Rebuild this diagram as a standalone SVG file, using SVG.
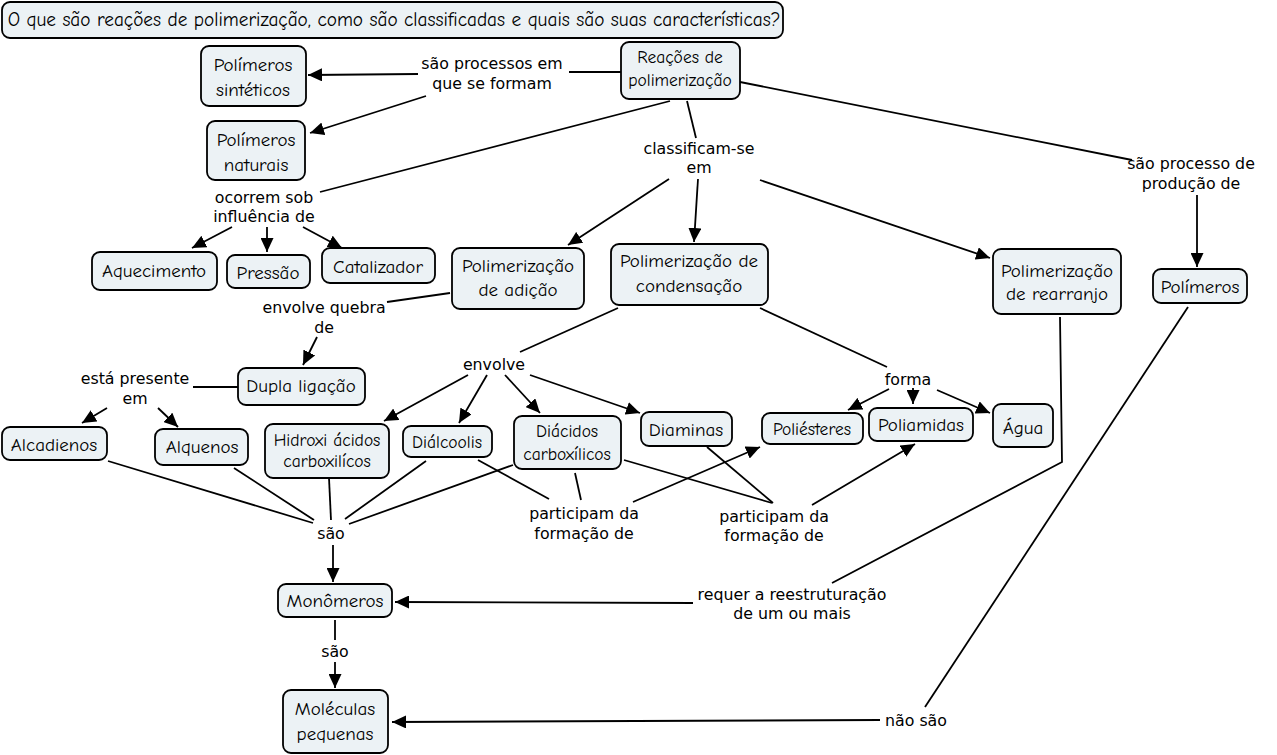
<svg xmlns="http://www.w3.org/2000/svg" width="1277" height="755" viewBox="0 0 1277 755">
<style>
.n rect{fill:#ecf2f5;stroke:#000;stroke-width:1.8}
.n text{font-family:"Comic Sans MS","Comic Neue","Noto Sans",sans-serif;font-size:19px;fill:#000;text-anchor:middle}
.n text.s{font-size:17.5px}
.l{font-family:"DejaVu Sans","Verdana",sans-serif;font-size:15.8px;fill:#000;text-anchor:middle}
#conn line,#conn polyline{stroke:#000;stroke-width:1.8;fill:none}
#conn .a{marker-end:url(#ah)}
</style>
<defs>
<marker id="ah" markerUnits="userSpaceOnUse" markerWidth="15" markerHeight="13" refX="14" refY="6.5" orient="auto" viewBox="0 0 15 13">
<path d="M0,0 L14,6.5 L0,13 Z" fill="#000"/>
</marker>
</defs>
<rect width="1277" height="755" fill="#fff"/>
<g id="conn">
<line x1="621" y1="72" x2="569" y2="72"/>
<line class="a" x1="418" y1="74" x2="308" y2="75"/>
<line class="a" x1="426" y1="96" x2="310" y2="133"/>
<line x1="670" y1="101" x2="320" y2="192"/>
<line class="a" x1="232" y1="227" x2="192" y2="248"/>
<line class="a" x1="267" y1="227" x2="267" y2="252"/>
<line class="a" x1="303" y1="227" x2="342" y2="248"/>
<line x1="687" y1="101" x2="696" y2="138"/>
<line class="a" x1="669" y1="179" x2="568" y2="245"/>
<line class="a" x1="698" y1="179" x2="694" y2="242"/>
<line class="a" x1="760" y1="180" x2="990" y2="258"/>
<line x1="740" y1="82" x2="1132" y2="160"/>
<line class="a" x1="1197" y1="195" x2="1197" y2="267"/>
<line x1="1188" y1="307" x2="925" y2="707"/>
<line class="a" x1="880" y1="720" x2="392" y2="722"/>
<polyline points="1060,317 1062,462 832,583"/>
<line class="a" x1="693" y1="603" x2="395" y2="602"/>
<line x1="335" y1="620" x2="335" y2="640"/>
<line class="a" x1="335" y1="662" x2="335" y2="688"/>
<line class="a" x1="333" y1="545" x2="333" y2="582"/>
<line x1="108" y1="461" x2="313" y2="523"/>
<line x1="234" y1="468" x2="314" y2="520"/>
<line x1="329" y1="478" x2="331" y2="520"/>
<line x1="426" y1="461" x2="345" y2="519"/>
<line x1="513" y1="465" x2="349" y2="524"/>
<line x1="450" y1="293" x2="387" y2="302"/>
<line class="a" x1="317" y1="337" x2="303" y2="365"/>
<line x1="238" y1="387" x2="193" y2="387"/>
<line class="a" x1="107" y1="408" x2="82" y2="423"/>
<line class="a" x1="158" y1="408" x2="178" y2="427"/>
<line x1="618" y1="308" x2="520" y2="352"/>
<line class="a" x1="468" y1="375" x2="384" y2="421"/>
<line class="a" x1="487" y1="375" x2="459" y2="423"/>
<line class="a" x1="505" y1="375" x2="540" y2="413"/>
<line class="a" x1="530" y1="375" x2="640" y2="413"/>
<line x1="760" y1="308" x2="887" y2="367"/>
<line class="a" x1="889" y1="389" x2="848" y2="410"/>
<line class="a" x1="913" y1="388" x2="913" y2="404"/>
<line class="a" x1="937" y1="390" x2="990" y2="413"/>
<line x1="478" y1="460" x2="549" y2="499"/>
<line x1="575" y1="473" x2="581" y2="500"/>
<line class="a" x1="633" y1="502" x2="760" y2="447"/>
<line x1="624" y1="460" x2="772" y2="503"/>
<line x1="707" y1="447" x2="773" y2="503"/>
<line class="a" x1="812" y1="505" x2="915" y2="444"/>
</g>
<g id="labels">
<text class="l" x="492" y="69">são processos em</text>
<text class="l" x="492" y="89">que se formam</text>
<text class="l" x="264" y="203">ocorrem sob</text>
<text class="l" x="264" y="222">influência de</text>
<text class="l" x="699" y="154">classificam-se</text>
<text class="l" x="699" y="173">em</text>
<text class="l" x="1191" y="169">são processo de</text>
<text class="l" x="1191" y="189">produção de</text>
<text class="l" x="324" y="313">envolve quebra</text>
<text class="l" x="324" y="333">de</text>
<text class="l" x="135" y="384">está presente</text>
<text class="l" x="135" y="404">em</text>
<text class="l" x="494" y="370">envolve</text>
<text class="l" x="908" y="385">forma</text>
<text class="l" x="584" y="519">participam da</text>
<text class="l" x="584" y="539">formação de</text>
<text class="l" x="774" y="522">participam da</text>
<text class="l" x="774" y="541">formação de</text>
<text class="l" x="331" y="539">são</text>
<text class="l" x="335" y="657">são</text>
<text class="l" x="792" y="600">requer a reestruturação</text>
<text class="l" x="792" y="619">de um ou mais</text>
<text class="l" x="916" y="726">não são</text>
</g>
<g id="title" class="n"><rect x="2" y="2" width="781" height="36" rx="8"/><text x="394" y="26" style="font-size:19.3px">O que são reações de polimerização, como são classificadas e quais são suas características?</text></g>
<g id="reacoes" class="n"><rect x="621" y="42" width="119" height="57" rx="8"/><text class="s" x="680" y="63">Reações de</text><text class="s" x="680" y="86">polimerização</text></g>
<g id="sinteticos" class="n"><rect x="201" y="46" width="105" height="60" rx="8"/><text x="253" y="71">Polímeros</text><text x="253" y="96">sintéticos</text></g>
<g id="naturais" class="n"><rect x="207" y="121" width="98" height="59" rx="8"/><text x="256" y="146">Polímeros</text><text x="256" y="171">naturais</text></g>
<g id="aquecimento" class="n"><rect x="92" y="252" width="125" height="38" rx="8"/><text x="154" y="277">Aquecimento</text></g>
<g id="pressao" class="n"><rect x="227" y="255" width="83" height="33" rx="8"/><text x="268" y="279">Pressão</text></g>
<g id="catalizador" class="n"><rect x="322" y="248" width="113" height="35" rx="8"/><text x="378" y="273">Catalizador</text></g>
<g id="adicao" class="n"><rect x="452" y="248" width="132" height="61" rx="8"/><text x="518" y="272">Polimerização</text><text x="518" y="296">de adição</text></g>
<g id="condensacao" class="n"><rect x="611" y="244" width="157" height="61" rx="8"/><text x="689" y="267">Polimerização de</text><text x="689" y="292">condensação</text></g>
<g id="rearranjo" class="n"><rect x="993" y="249" width="128" height="65" rx="8"/><text x="1057" y="277">Polimerização</text><text x="1057" y="300">de rearranjo</text></g>
<g id="polimeros" class="n"><rect x="1153" y="269" width="94" height="34" rx="8"/><text x="1200" y="293">Polímeros</text></g>
<g id="dupla" class="n"><rect x="238" y="368" width="127" height="37" rx="8"/><text x="301" y="392">Dupla ligação</text></g>
<g id="alcadienos" class="n"><rect x="2" y="427" width="105" height="33" rx="8"/><text x="54" y="451">Alcadienos</text></g>
<g id="alquenos" class="n"><rect x="155" y="429" width="93" height="36" rx="8"/><text x="202" y="453">Alquenos</text></g>
<g id="hidroxi" class="n"><rect x="265" y="424" width="124" height="54" rx="8"/><text class="s" x="327" y="446">Hidroxi ácidos</text><text class="s" x="327" y="467">carboxilícos</text></g>
<g id="dialcoolis" class="n"><rect x="403" y="426" width="89" height="31" rx="8"/><text class="s" x="447" y="448">Diálcoolis</text></g>
<g id="diacidos" class="n"><rect x="514" y="416" width="107" height="53" rx="8"/><text class="s" x="567" y="437">Diácidos</text><text class="s" x="567" y="460">carboxílicos</text></g>
<g id="diaminas" class="n"><rect x="641" y="412" width="91" height="34" rx="8"/><text x="686" y="436">Diaminas</text></g>
<g id="poliesteres" class="n"><rect x="762" y="413" width="101" height="31" rx="8"/><text class="s" x="812" y="435">Poliésteres</text></g>
<g id="poliamidas" class="n"><rect x="869" y="408" width="104" height="33" rx="8"/><text x="921" y="431">Poliamidas</text></g>
<g id="agua" class="n"><rect x="993" y="404" width="60" height="43" rx="8"/><text x="1023" y="434">Água</text></g>
<g id="monomeros" class="n"><rect x="278" y="584" width="114" height="33" rx="8"/><text x="335" y="607">Monômeros</text></g>
<g id="moleculas" class="n"><rect x="283" y="690" width="105" height="63" rx="8"/><text x="335" y="715">Moléculas</text><text x="335" y="740">pequenas</text></g>
</svg>
